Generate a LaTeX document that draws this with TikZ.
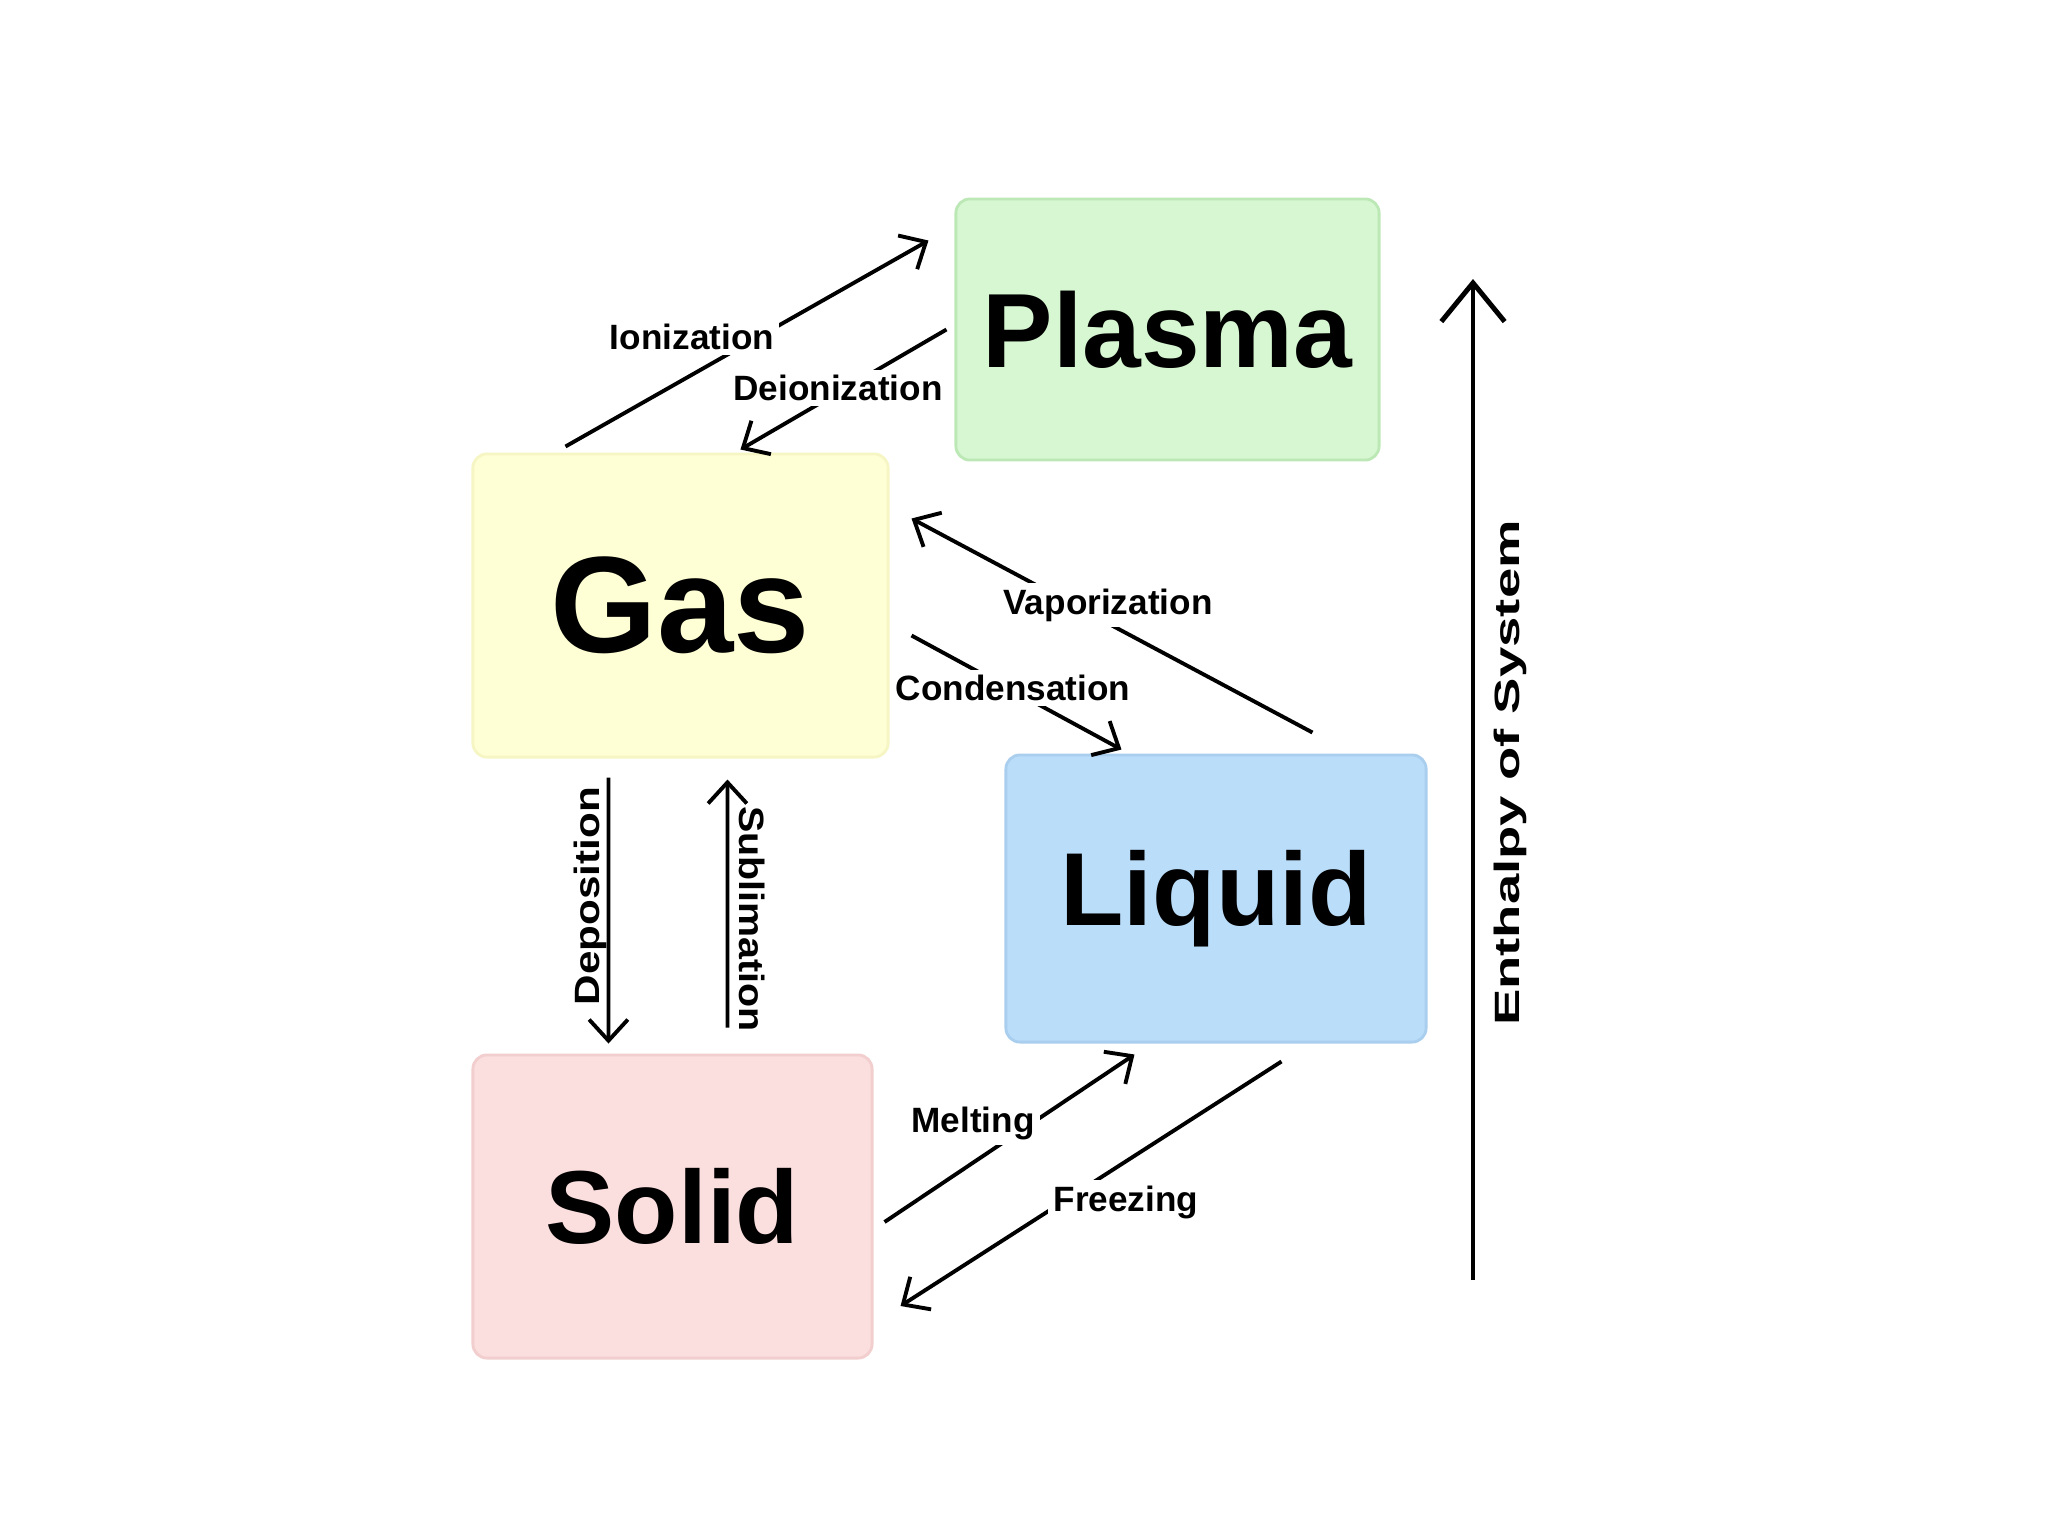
\documentclass[tikz,border=0pt]{standalone}
\usepackage{fontspec}
\setmainfont{Liberation Sans}
\usetikzlibrary{arrows.meta,calc}
\definecolor{plasmafill}{RGB}{214,247,209}
\definecolor{plasmaline}{RGB}{188,232,182}
\definecolor{gasfill}{RGB}{255,255,214}
\definecolor{gasline}{RGB}{246,246,196}
\definecolor{liquidfill}{RGB}{186,221,249}
\definecolor{liquidline}{RGB}{170,206,238}
\definecolor{solidfill}{RGB}{251,222,222}
\definecolor{solidline}{RGB}{242,206,206}

\begin{document}
\begin{tikzpicture}[x=0.01cm,y=-0.01cm,
  phase/.style={rounded corners=4pt,line width=0.8pt,inner sep=0pt},
  flow/.style={line width=1.1pt,-{Straight Barb[length=6pt,width=11pt]}},
  tag/.style={font=\bfseries\fontsize{10}{12}\selectfont,fill=white,inner sep=1.5pt}]
\useasboundingbox (0,0) rectangle (2048,1536);
\fill[white] (0,0) rectangle (2048,1536);

\node[phase,fill=plasmafill,draw=plasmaline,minimum width=4.23cm,minimum height=2.61cm,
  font=\bfseries\fontsize{30}{35}\selectfont] (plasma) at (1167.5,329.5) {Plasma\hspace{0.06cm}};
\node[phase,fill=gasfill,draw=gasline,minimum width=4.15cm,minimum height=3.03cm,
  font=\bfseries\fontsize{39}{45}\selectfont] (gas) at (680.5,605.5) {Gas\hspace{0.06cm}};
\node[phase,fill=liquidfill,draw=liquidline,minimum width=4.2cm,minimum height=2.87cm,
  font=\bfseries\fontsize{29.5}{35}\selectfont] (liquid) at (1216,898.5) {Liquid\hspace{0.08cm}};
\node[phase,fill=solidfill,draw=solidline,minimum width=3.99cm,minimum height=3.03cm,
  font=\bfseries\fontsize{29.5}{35}\selectfont] (solid) at (672.5,1206.5) {Solid\hspace{0.16cm}};

\draw[flow] ($(gas.north west)+(94,-6)$) -- ($(plasma.north west)+(-26,43)$);
\draw[flow] ($(plasma.west)+(-8,0)$) -- ($(gas.north west)+(269,-3)$);
\draw[flow] ($(liquid.north west)+(308,-21)$) -- ($(gas.north east)+(22,66)$);
\draw[flow] ($(gas.east)+(22,30)$) -- ($(liquid.north west)+(117,-4)$);
\draw[flow] ($(gas.south west)+(137,19)$) -- ($(solid.north west)+(137,-10)$);
\draw[flow] ($(solid.north west)+(256,-26)$) -- ($(gas.south west)+(256,21)$);
\draw[flow] ($(solid.east)+(11,15.5)$) -- ($(liquid.south west)+(130,11)$);
\draw[flow] ($(liquid.south west)+(277,18)$) -- ($(solid.east)+(27,99.5)$);

\coordinate (low) at (1473,1280);
\coordinate (high) at (1473,279);
\draw[line width=1.4pt,-{Straight Barb[length=11pt,width=18pt]}] (low) -- (high);

\node[tag] (ionization) at (692,337) {Ionization};
\node[tag] (deionization) at (838,388) {Deionization};
\node[tag] (vaporization) at (1108,605) {Vaporization};
\node[tag] (condensation) at (1013,688) {Condensation};
\node[tag] (melting) at (973,1123) {Melting};
\node[tag] (freezing) at (1126,1202) {Freezing};
\node[tag,fill=none,rotate=90] (deposition) at (590,896) {\scalebox{1.2}[1]{Deposition}};
\node[tag,fill=none,rotate=-90] (sublimation) at (752,919) {\scalebox{1.12}[1]{Sublimation}};
\node[tag,fill=none,rotate=90] (enthalpy) at (1510,773) {\scalebox{1.55}[1]{Enthalpy of System}};
\end{tikzpicture}
\end{document}
